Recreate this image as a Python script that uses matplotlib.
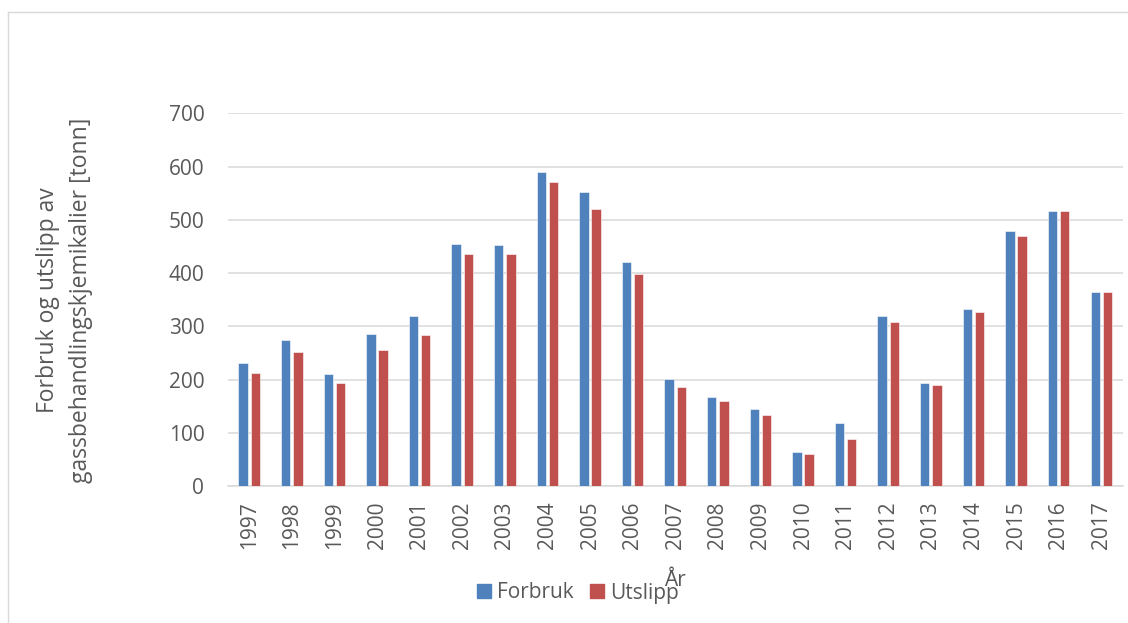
import matplotlib
matplotlib.use("Agg")
import matplotlib.pyplot as plt
import numpy as np
from matplotlib.lines import Line2D
from matplotlib.patches import Patch

plt.rcParams['font.family'] = ['Open Sans', 'DejaVu Sans']

years = [str(y) for y in range(1997, 2018)]
forbruk = [231, 274, 210, 286, 319, 455, 453, 589, 553, 420, 201,
           168, 144, 64, 118, 319, 194, 332, 479, 517, 364]
utslipp = [213, 251, 193, 256, 284, 436, 435, 571, 521, 399, 186,
           159, 134, 60, 88, 308, 189, 326, 469, 516, 364]

blue = '#4F81BD'
red = '#C0504D'
grey_txt = '#595959'
grid_col = '#D9D9D9'

fig = plt.figure(figsize=(11.28, 6.23), dpi=100)
ax = fig.add_axes([0.2021, 0.2199, 0.7932, 0.5982])

x = np.arange(len(years))
w = 0.22
ax.bar(x - 0.145, forbruk, width=w, color=blue, edgecolor='white', linewidth=0.4, zorder=3)
ax.bar(x + 0.14, utslipp, width=w, color=red, edgecolor='white', linewidth=0.4, zorder=3)

ax.set_xlim(-0.5, len(years) - 0.5)
ax.set_ylim(0, 700)
ax.set_yticks(range(0, 701, 100))
ax.yaxis.grid(True, color=grid_col, linewidth=1.1, zorder=0)
ax.set_axisbelow(True)

for s in ['top', 'right', 'left']:
    ax.spines[s].set_visible(False)
ax.spines['bottom'].set_color(grid_col)
ax.spines['bottom'].set_linewidth(1.1)

ax.set_xticks(x)
ax.set_xticklabels(years, rotation=90)
ax.tick_params(axis='x', length=0, pad=11, labelsize=15, labelcolor=grey_txt)
ax.tick_params(axis='y', length=0, pad=17, labelsize=15, labelcolor=grey_txt)

ax.set_xlabel('År', fontsize=15, color=grey_txt)
ax.xaxis.set_label_coords(0.5, -0.225)

fig.text(65 / 1128, 1 - 300 / 623,
         'Forbruk og utslipp av\ngassbehandlingskjemikalier [tonn]',
         rotation=90, ha='center', va='center', multialignment='center',
         fontsize=16.5, color=grey_txt, linespacing=1.5)

handles = [Patch(color=blue, label='Forbruk'), Patch(color=red, label='Utslipp')]
fig.legend(handles=handles, loc='center', bbox_to_anchor=(578 / 1128, 1 - 593 / 623),
           ncol=2, frameon=False, fontsize=15, handlelength=0.65, handleheight=0.65,
           handletextpad=0.3, columnspacing=0.8, labelcolor=grey_txt)

# thin frame around the chart area (left and top edges)
fig.add_artist(Line2D([7.5 / 1128, 7.5 / 1128], [0, 1 - 12 / 623],
                      transform=fig.transFigure, color=grid_col, linewidth=1))
fig.add_artist(Line2D([7.5 / 1128, 1], [1 - 12 / 623, 1 - 12 / 623],
                      transform=fig.transFigure, color=grid_col, linewidth=1))

fig.savefig('out.png', dpi=100)
